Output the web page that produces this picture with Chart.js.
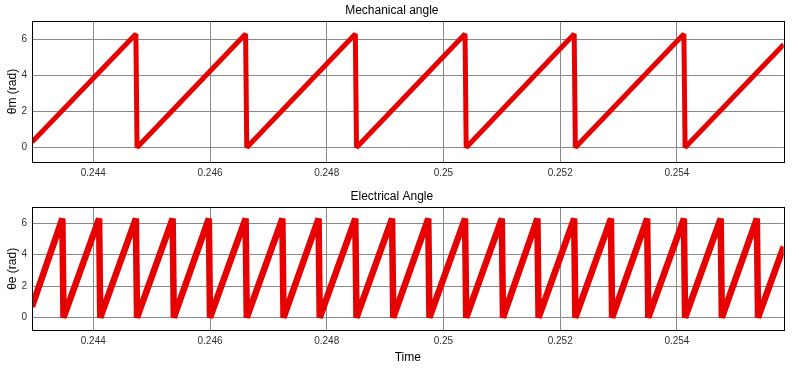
<!DOCTYPE html>
<html>
<head>
<meta charset="utf-8">
<script src="https://cdn.jsdelivr.net/npm/chart.js@4.4.0/dist/chart.umd.min.js"></script>
<style>
    html, body { margin: 0; padding: 0; background: #fff; }
    #wrap { position: relative; width: 799px; height: 371px; }
    .box { position: absolute; left: 0; width: 799px; }
</style>
</head>
<body>
<div id="wrap">
    <div class="box" style="top:0;height:185px"><canvas id="mechChart"></canvas></div>
    <div class="box" style="top:185px;height:186px"><canvas id="elecChart"></canvas></div>
</div>
<script>
//############################ Data ############################
const xRange = [0.24295, 0.25583];
const yRange = [-0.8, 7];
const xTickStep = 0.002;
const yTickStep = 2;

// Mechanical angle (rad) vs time (s): saw-tooth corners
const mechTime  = [0.24295, 0.24473, 0.24475, 0.24661, 0.24663, 0.24849, 0.24851, 0.25037, 0.25039,
                   0.25224, 0.25226, 0.25412, 0.25414, 0.25583];
const mechAngle = [0.3, 6.28, 0, 6.28, 0, 6.28, 0, 6.28, 0, 6.28, 0, 6.28, 0, 5.7];

// Electrical angle (rad) vs time (s): saw-tooth corners
const elecTime  = [0.24295,
                   0.24347, 0.24349, 0.24410, 0.24412, 0.24473, 0.24475, 0.24536, 0.24538,
                   0.24598, 0.24600, 0.24661, 0.24663, 0.24724, 0.24726, 0.24786, 0.24788,
                   0.24849, 0.24851, 0.24912, 0.24914, 0.24974, 0.24976, 0.25037, 0.25039,
                   0.25100, 0.25102, 0.25161, 0.25163, 0.25224, 0.25226, 0.25287, 0.25289,
                   0.25349, 0.25351, 0.25412, 0.25414, 0.25475, 0.25477, 0.25537, 0.25539,
                   0.25583];
const elecAngle = [0.7,
                   6.28, 0, 6.28, 0, 6.28, 0, 6.28, 0,
                   6.28, 0, 6.28, 0, 6.28, 0, 6.28, 0,
                   6.28, 0, 6.28, 0, 6.28, 0, 6.28, 0,
                   6.28, 0, 6.28, 0, 6.28, 0, 6.28, 0,
                   6.28, 0, 6.28, 0, 6.28, 0, 6.28, 0,
                   4.5];

//############################ Helpers ############################
const FONT = 'Liberation Sans, Arial, Helvetica, sans-serif';
const lineColor = '#e60000';
const gridColor = '#8a8a8a';
const tickColor = '#303030';

// draw the black box around the plot area
const boxPlugin = {
    id: 'boxPlugin',
    afterDraw(chart) {
        const a = chart.chartArea;
        const ctx = chart.ctx;
        ctx.save();
        ctx.strokeStyle = '#000';
        ctx.lineWidth = 1;
        ctx.strokeRect(Math.round(a.left) + 0.5, Math.round(a.top) + 0.5,
                       Math.round(a.right - a.left), Math.round(a.bottom - a.top));
        ctx.restore();
    }
};

const makeChart = (id, times, values, opts) => {
    return new Chart(document.getElementById(id), {
        type: 'line',
        data: {
            datasets: [{
                data: times.map((t, i) => ({ x: t, y: values[i] })),
                borderColor: lineColor,
                borderWidth: opts.lineWidth,
                borderJoinStyle: 'bevel',
                borderCapStyle: 'butt',
                pointRadius: 0,
                tension: 0,
                fill: false,
            }],
        },
        options: {
            responsive: true,
            maintainAspectRatio: false,
            animation: false,
            events: [],
            layout: { padding: { left: 0, right: 15.3, top: 0, bottom: 0 } },
            plugins: {
                legend: { display: false },
                tooltip: { enabled: false },
                title: {
                    display: true,
                    text: opts.title,
                    color: '#000',
                    font: { family: FONT, size: 12, weight: 'normal', lineHeight: 1.2 },
                    padding: opts.titlePadding,
                },
            },
            scales: {
                x: {
                    type: 'linear',
                    min: xRange[0],
                    max: xRange[1],
                    grid: { color: gridColor, lineWidth: 1, drawTicks: false },
                    border: { display: false },
                    ticks: {
                        stepSize: xTickStep,
                        includeBounds: false,
                        padding: 5,
                        maxRotation: 0,
                        color: tickColor,
                        font: { family: FONT, size: 10 },
                        callback: (v) => String(+v.toFixed(3)),
                    },
                    title: {
                        display: !!opts.xTitle,
                        text: opts.xTitle || '',
                        color: '#000',
                        font: { family: FONT, size: 12 },
                        padding: { top: 0, bottom: 6 },
                    },
                    afterFit: (scale) => { scale.height = opts.xHeight; },
                },
                y: {
                    min: yRange[0],
                    max: yRange[1],
                    grid: { color: gridColor, lineWidth: 1, drawTicks: false },
                    border: { display: false },
                    ticks: {
                        stepSize: yTickStep,
                        includeBounds: false,
                        padding: 5,
                        color: tickColor,
                        font: { family: FONT, size: 10 },
                    },
                    title: {
                        display: true,
                        text: opts.yTitle,
                        color: '#000',
                        font: { family: FONT, size: 12 },
                        padding: { top: 5, bottom: 0 },
                    },
                    afterFit: (scale) => { scale.width = 32; },
                },
            },
        },
        plugins: [boxPlugin],
    });
};

//############################ Build both panels ############################
makeChart('mechChart', mechTime, mechAngle, {
    title: 'Mechanical angle',
    titlePadding: { top: 3, bottom: 3.6 },
    yTitle: 'θm (rad)',
    xHeight: 23,
    lineWidth: 5,
});

makeChart('elecChart', elecTime, elecAngle, {
    title: 'Electrical Angle',
    titlePadding: { top: 4, bottom: 3.9 },
    yTitle: 'θe (rad)',
    xTitle: 'Time',
    xHeight: 40.7,
    lineWidth: 6.5,
});
</script>
</body>
</html>
